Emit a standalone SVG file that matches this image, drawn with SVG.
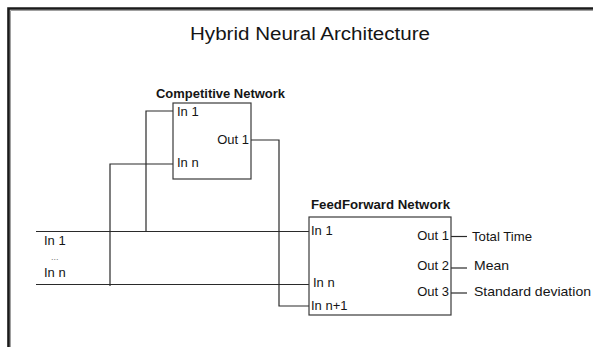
<svg xmlns="http://www.w3.org/2000/svg" width="593" height="347" viewBox="0 0 593 347">
<style>
text{font-family:"Liberation Sans",Arial,sans-serif;fill:#151515;}
.lbl{font-size:13px;}
.hdr{font-size:12px;font-weight:bold;}
.ttl{font-size:18px;}
.box{fill:#fff;stroke:#3a3a3a;stroke-width:1.2;}
.wire{fill:none;stroke:#2a2a2a;stroke-width:1.2;}
.frame{fill:none;stroke:#1a1a1a;stroke-width:2.6;}
.shade{fill:none;stroke:#a0a0a0;stroke-width:1;}
</style>
<rect width="593" height="347" fill="#fff"/>
<g id="frame">
<path class="frame" d="M8.5,347 V8.5 H593"/>
<path class="shade" d="M10.5,347 V10.5 H593"/>
</g>
<text id="title" class="ttl" x="190" y="40" textLength="240" lengthAdjust="spacingAndGlyphs">Hybrid Neural Architecture</text>
<g id="connectors">
<path class="wire" d="M36,231.5 H309"/>
<path class="wire" d="M36,284.5 H309"/>
<path class="wire" d="M110,286 V164 H173"/>
<path class="wire" d="M146,231.5 V111 H173"/>
<path class="wire" d="M251,140 H279 V306 H309"/>
<path class="wire" d="M451,236.5 H467"/>
<path class="wire" d="M451,268 H467"/>
<path class="wire" d="M451,293 H467"/>
</g>
<g id="inputs">
<text class="lbl" x="44" y="245">In 1</text>
<text x="51" y="260" style="font-size:9px;fill:#777">...</text>
<text class="lbl" x="44" y="277">In n</text>
</g>
<g id="competitive-network">
<text class="hdr" x="156" y="97.5" textLength="129" lengthAdjust="spacingAndGlyphs">Competitive Network</text>
<rect class="box" x="173" y="103" width="78" height="76"/>
<text class="lbl" x="177" y="116">In 1</text>
<text class="lbl" x="249" y="144" text-anchor="end">Out 1</text>
<text class="lbl" x="177" y="167">In n</text>
</g>
<g id="feedforward-network">
<text class="hdr" x="311" y="209" textLength="139" lengthAdjust="spacingAndGlyphs">FeedForward Network</text>
<rect class="box" x="309" y="217" width="142" height="98"/>
<text class="lbl" x="311" y="235">In 1</text>
<text class="lbl" x="313" y="287">In n</text>
<text class="lbl" x="311" y="310">In n+1</text>
<text class="lbl" x="449" y="240" text-anchor="end">Out 1</text>
<text class="lbl" x="449" y="269.5" text-anchor="end">Out 2</text>
<text class="lbl" x="449" y="296" text-anchor="end">Out 3</text>
</g>
<g id="outputs">
<text class="lbl" x="472" y="240.5" textLength="60" lengthAdjust="spacingAndGlyphs">Total Time</text>
<text class="lbl" x="474" y="270" textLength="35" lengthAdjust="spacingAndGlyphs">Mean</text>
<text class="lbl" x="474" y="296" textLength="117" lengthAdjust="spacingAndGlyphs">Standard deviation</text>
</g>
</svg>
